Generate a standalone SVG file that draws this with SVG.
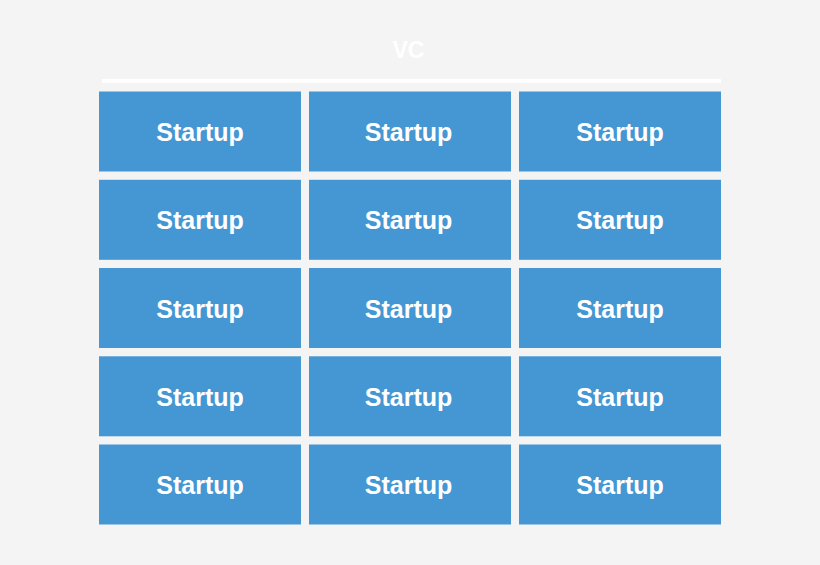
<svg xmlns="http://www.w3.org/2000/svg" width="820" height="565" viewBox="0 0 820 565">
<style>
.box{fill:#4497d3}
.lbl{font-family:"Liberation Sans",Arial,sans-serif;font-weight:bold;font-size:25px;fill:#ffffff;text-anchor:middle}
.title{font-family:"Liberation Sans",Arial,sans-serif;font-weight:bold;font-size:23px;fill:#ffffff;text-anchor:middle}
</style>
<rect x="0" y="0" width="820" height="565" fill="#f4f4f4"/>
<g id="vc">
<text class="title" x="408.5" y="58.3">VC</text>
<rect x="102" y="79" width="619" height="4" fill="#ffffff"/>
</g>
<g id="connectors"></g>
<g id="s11"><rect class="box" x="99" y="91.5" width="202" height="80"/><text class="lbl" x="200" y="141">Startup</text></g>
<g id="s12"><rect class="box" x="309" y="91.5" width="202" height="80"/><text class="lbl" x="408.5" y="141">Startup</text></g>
<g id="s13"><rect class="box" x="519" y="91.5" width="202" height="80"/><text class="lbl" x="620" y="141">Startup</text></g>
<g id="s21"><rect class="box" x="99" y="179.8" width="202" height="80"/><text class="lbl" x="200" y="229.3">Startup</text></g>
<g id="s22"><rect class="box" x="309" y="179.8" width="202" height="80"/><text class="lbl" x="408.5" y="229.3">Startup</text></g>
<g id="s23"><rect class="box" x="519" y="179.8" width="202" height="80"/><text class="lbl" x="620" y="229.3">Startup</text></g>
<g id="s31"><rect class="box" x="99" y="268" width="202" height="80"/><text class="lbl" x="200" y="317.5">Startup</text></g>
<g id="s32"><rect class="box" x="309" y="268" width="202" height="80"/><text class="lbl" x="408.5" y="317.5">Startup</text></g>
<g id="s33"><rect class="box" x="519" y="268" width="202" height="80"/><text class="lbl" x="620" y="317.5">Startup</text></g>
<g id="s41"><rect class="box" x="99" y="356.3" width="202" height="80"/><text class="lbl" x="200" y="405.8">Startup</text></g>
<g id="s42"><rect class="box" x="309" y="356.3" width="202" height="80"/><text class="lbl" x="408.5" y="405.8">Startup</text></g>
<g id="s43"><rect class="box" x="519" y="356.3" width="202" height="80"/><text class="lbl" x="620" y="405.8">Startup</text></g>
<g id="s51"><rect class="box" x="99" y="444.5" width="202" height="80"/><text class="lbl" x="200" y="494">Startup</text></g>
<g id="s52"><rect class="box" x="309" y="444.5" width="202" height="80"/><text class="lbl" x="408.5" y="494">Startup</text></g>
<g id="s53"><rect class="box" x="519" y="444.5" width="202" height="80"/><text class="lbl" x="620" y="494">Startup</text></g>
</svg>
